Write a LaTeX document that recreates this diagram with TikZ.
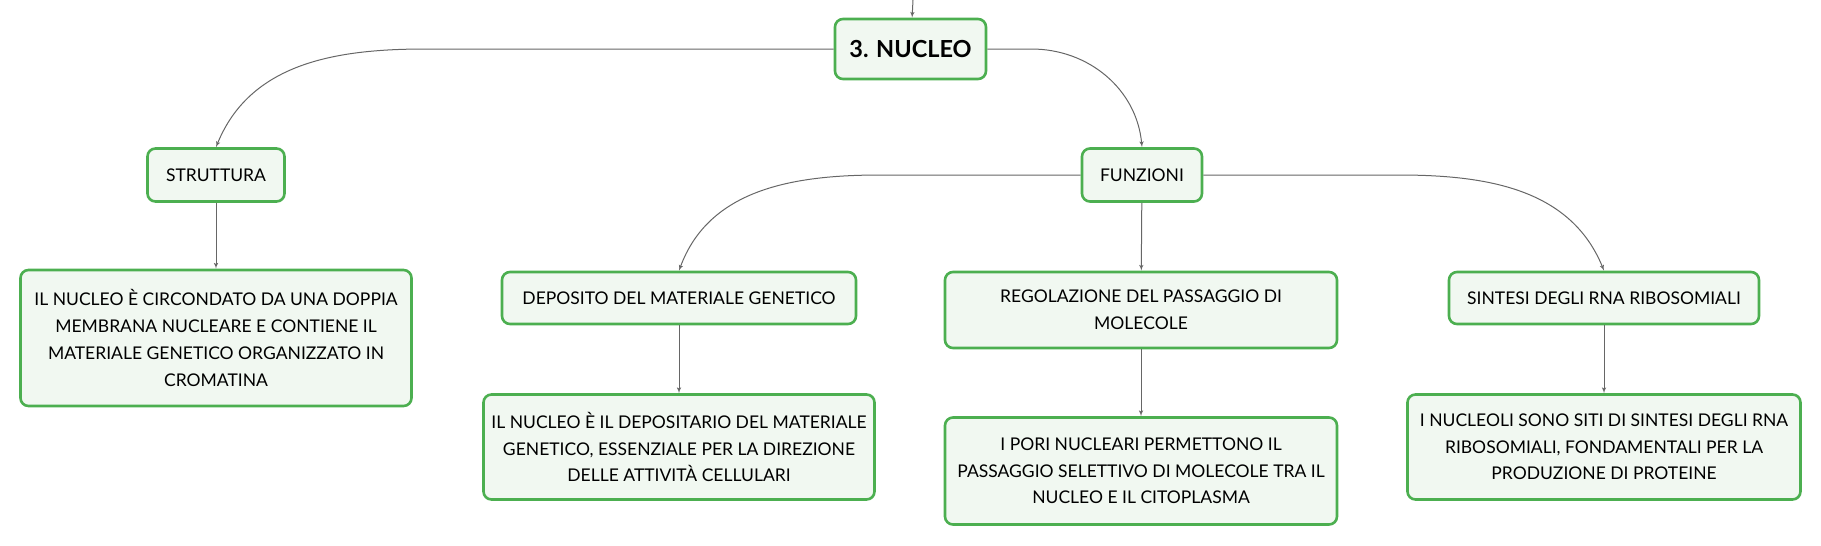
\documentclass[tikz,border=0pt]{standalone}
\usepackage{fontspec}
\setmainfont{Lato}
\usepackage{tikz}
\usetikzlibrary{arrows,positioning}
\definecolor{boxgreen}{HTML}{4CAF50}
\definecolor{boxfill}{HTML}{F1F8F1}
\definecolor{linegray}{HTML}{666666}

\begin{document}
\begin{tikzpicture}[x=1pt,y=-1pt]
    \tikzset{
      box/.style={draw=boxgreen, line width=2.6pt, fill=boxfill, rounded corners=8pt, inner sep=0pt, align=center,
        font=\fontsize{17.5}{26.7}\selectfont},
      topbox/.style={box, font=\fontsize{23.5}{26}\selectfont\bfseries},
      line/.style={draw=linegray, line width=1pt, -latex'}
    }
    \useasboundingbox (0,0) rectangle (1821,546);
    % main node and its branches
    \node [topbox, minimum width=151pt, minimum height=60pt] (nuc) at (910.5,49) {3. NUCLEO};
    \coordinate (up) at (913,0);
    \node [box, minimum width=137pt, minimum height=53pt] (str) at (216,175) {STRUTTURA};
    \node [box, minimum width=120pt, minimum height=53pt] (fun) at (1142,175) {FUNZIONI};

    \node [box, minimum width=391pt, minimum height=136pt, node distance=163pt, below of = str] (strtxt)
      {IL NUCLEO È CIRCONDATO DA UNA DOPPIA\\MEMBRANA NUCLEARE E CONTIENE IL\\MATERIALE GENETICO ORGANIZZATO IN\\CROMATINA};

    % funzioni
    \node [box, minimum width=354pt, minimum height=52pt] (dep) at (679,298) {DEPOSITO DEL MATERIALE GENETICO};
    \node [box, minimum width=392pt, minimum height=76pt] (reg) at (1141,310) {REGOLAZIONE DEL PASSAGGIO DI\\MOLECOLE};
    \node [box, minimum width=310pt, minimum height=52pt] (sin) at (1604,298) {SINTESI DEGLI RNA RIBOSOMIALI};

    \node [box, minimum width=391pt, minimum height=105pt, node distance=149pt, below of = dep] (deptxt)
      {IL NUCLEO È IL DEPOSITARIO DEL MATERIALE\\GENETICO, ESSENZIALE PER LA DIREZIONE\\DELLE ATTIVITÀ CELLULARI};
    \node [box, minimum width=392pt, minimum height=107pt, node distance=161pt, below of = reg] (regtxt)
      {I PORI NUCLEARI PERMETTONO IL\\PASSAGGIO SELETTIVO DI MOLECOLE TRA IL\\NUCLEO E IL CITOPLASMA};
    \node [box, minimum width=393pt, minimum height=105pt, node distance=149pt, below of = sin] (sintxt)
      {I NUCLEOLI SONO SITI DI SINTESI DEGLI RNA\\RIBOSOMIALI, FONDAMENTALI PER LA\\PRODUZIONE DI PROTEINE};

    \path [line] (up)--(nuc);
    \path [line] (nuc.west) -- ++(-408,0) to[out=180, in=68] (str.north);
    \path [line] (nuc.east) -- ++(44,0) to[out=0, in=95] (fun.north);
    \path [line] (str)--(strtxt);
    \path [line] (fun.west) -- ++(-200,0) to[out=180, in=70] (dep.north);
    \path [line] (fun)--(reg);
    \path [line] (fun.east) -- ++(195,0) to[out=0, in=112] (sin.north);
    \path [line] (dep)--(deptxt);
    \path [line] (reg)--(regtxt);
    \path [line] (sin)--(sintxt);
    \end{tikzpicture}
\end{document}
